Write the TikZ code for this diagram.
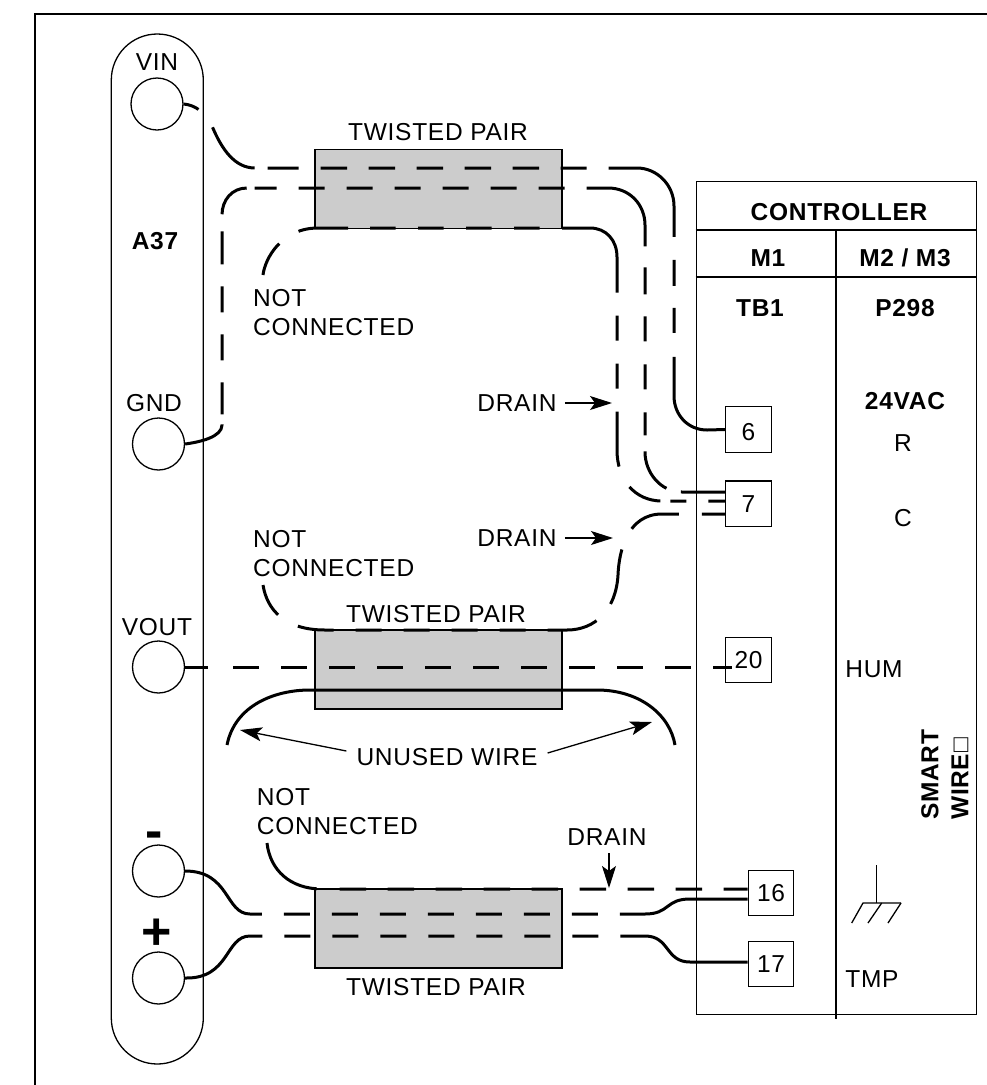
\documentclass[tikz,border=0pt]{standalone}
\usepackage{fontspec}
\setmainfont[LetterSpace=3]{Liberation Sans}
\usetikzlibrary{arrows.meta}
\definecolor{pairgrey}{RGB}{204,204,204}
\tikzset{
    thinline/.style={line width=1.3pt},
    wire/.style={line width=3pt},
    txt/.style={inner sep=0pt, text height=17.6pt, text depth=0pt, font=\fontsize{24.5}{29}\selectfont},
    boldtxt/.style={txt, font=\fontsize{24.5}{29}\selectfont\bfseries},
    note/.style={inner sep=0pt, anchor=north west, align=left, font=\fontsize{24.5}{29.5}\selectfont},
    hole/.style={circle, draw, thinline, minimum size=52pt, inner sep=0pt},
    pairbox/.style={draw, thinline, fill=pairgrey, minimum width=247pt, minimum height=79pt, inner sep=0pt},
    term/.style={draw, thinline, minimum size=45.5pt, inner sep=0pt, font=\fontsize{24.5}{29}\selectfont},
    pointer/.style={thinline, -{Stealth[length=22pt,width=14pt,inset=5pt]}}
}
\begin{document}
\begin{tikzpicture}[x=1pt,y=-1pt]
    \useasboundingbox (0,0) rectangle (987,1085);
    \draw[line width=1.6pt] (987,14) -- (35,14) -- (35,1085);

    \node[draw, thinline, rounded corners=46pt, minimum width=92pt, minimum height=1030pt, inner sep=0pt] (panel) at (157.3,549) {};
    \node[hole] (vin) at (157,104) {};
    \node[hole] (gnd) at (158.5,444) {};
    \node[hole] (vout) at (158.5,667) {};
    \node[hole] (minus) at (158.5,871) {};
    \node[hole] (plus) at (158.5,978) {};
    \node[txt] (vinlabel) at (157,62) {VIN};
    \node[boldtxt] (a37) at (155,241) {A37};
    \node[txt] (gndlabel) at (154,403) {GND};
    \node[txt] (voutlabel) at (157,627) {VOUT};
    \node[inner sep=0pt, anchor=base, font=\fontsize{52}{52}\selectfont\bfseries] (minuslabel) at (154,848) {-};
    \node[inner sep=0pt, anchor=base, font=\fontsize{52}{52}\selectfont\bfseries] (pluslabel) at (157,949) {+};

    \node[draw, thinline, minimum width=280pt, minimum height=833pt, inner sep=0pt] (controller) at (836.3,598.2) {};
    \draw[thinline] (controller.west |- 0,230) -- (controller.east |- 0,230);
    \draw[thinline] (controller.west |- 0,277) -- (controller.east |- 0,277);
    \draw[thinline] (836,230) -- (836,1019);
    \node[boldtxt] (ctrl) at (839,212) {CONTROLLER};
    \node[boldtxt] (m1) at (768,258) {M1};
    \node[boldtxt] (m2) at (905,258) {M2 / M3};
    \node[boldtxt] (tb1) at (760,308) {TB1};
    \node[boldtxt] (p298) at (905,308) {P298};
    \node[boldtxt] (vac) at (905,401) {24VAC};
    \node[txt] (rlabel) at (903,443) {R};
    \node[txt] (clabel) at (903,518) {C};
    \node[txt] (hum) at (874,669) {HUM};
    \node[txt] (tmp) at (872,979) {TMP};
    \node[rotate=90, anchor=north west, align=left, inner sep=0pt, font=\fontsize{24.5}{30}\selectfont\bfseries] (smart) at (921,820) {SMART\\WIRE□};

    \draw[thinline] (876.7,865) -- (876.7,903);
    \draw[thinline] (901,903) -- (863,903) -- (851.7,923);
    \draw[thinline] (881.7,903) -- (868,923);
    \draw[thinline] (901,903) -- (888,923);

    \node[pairbox] (pairtop) at (438.5,189) {};
    \node[pairbox] (pairmid) at (438.5,669.5) {};
    \node[pairbox] (pairlow) at (438.5,928.5) {};
    \node[txt] (pairtoplabel) at (438,132) {TWISTED PAIR};
    \node[txt] (pairmidlabel) at (436,614) {TWISTED PAIR};
    \node[txt] (pairlowlabel) at (436,987) {TWISTED PAIR};

    \node[term, text height=23pt] (term6) at (748.5,429.5) {6};
    \node[term] (term7) at (748.5,503.7) {7};
    \node[term] (term20) at (748.5,660) {20};
    \node[term] (term16) at (771,893) {16};
    \node[term] (term17) at (771,964) {17};

    \draw[wire, dash pattern=on 16pt off 23pt on 62pt off 13pt on 31pt off 22pt on 26.5pt off 21.5pt on 26.5pt off 21.5pt on 26.5pt off 21.5pt on 26.5pt off 21.5pt on 26.5pt off 21.5pt on 26pt off 22pt on 118pt off 23pt on 26pt off 22pt on 25pt off 24pt on 200pt off 0pt]
        (vin.east) .. controls (195,105) and (205,112) .. (212,126) .. controls (222,150) and (235,168) .. (255,168) -- (637,168) .. controls (657,168) and (674,185) .. (674,206) -- (674,396) .. controls (674,415) and (688,430) .. (707,430) -- (term6.west);
    \draw[wire, dash pattern=on 45pt off 10pt on 32pt off 22pt on 26pt off 22pt on 26pt off 22pt on 33pt off 17pt on 40pt off 8pt on 22pt off 22pt on 26pt off 22pt on 26pt off 22pt on 26pt off 22pt on 26pt off 22pt on 26pt off 22pt on 26pt off 22pt on 101pt off 21pt on 27pt off 22pt on 25pt off 23pt on 25pt off 23pt on 23pt off 16pt on 45pt off 15pt on 60pt off 0pt]
        (gnd.east) .. controls (200,442) and (222,437) .. (222,425) -- (222,215) .. controls (222,200) and (232,188) .. (247,188) -- (608,188) .. controls (630,188) and (645,205) .. (645,225) -- (645,452) .. controls (645,472) and (660,492) .. (682,492) -- ([yshift=11.7pt]term7.west);
    \draw[wire, dash pattern=on 36pt off 23pt on 50pt off 22pt on 25.5pt off 22.5pt on 25.5pt off 22.5pt on 25.5pt off 22.5pt on 25.5pt off 22.5pt on 108pt off 23pt on 25pt off 23pt on 25pt off 23pt on 55pt off 23pt on 35pt off 10pt on 16pt off 22pt on 20pt off 0pt]
        (263,275) .. controls (265,258) and (282,228) .. (318,228) -- (590,228) .. controls (606,228) and (617,240) .. (617,257) -- (617,450) .. controls (617,480) and (635,501) .. (662,501) -- ([yshift=2.7pt]term7.west);
    \draw[wire, dash pattern=on 23pt off 25pt on 26pt off 22pt on 26pt off 22pt on 26pt off 22pt on 26pt off 22pt on 26pt off 22pt on 26pt off 22pt on 26pt off 22pt on 26pt off 22pt on 26pt off 22pt on 26pt off 22pt on 30pt off 0pt]
        (vout.east) -- ([xshift=7pt]term20.west |- vout.east);
    \draw[wire, dash pattern=on 34pt off 23pt on 36pt off 22pt on 26pt off 22pt on 26pt off 22pt on 26pt off 22pt on 26pt off 22pt on 51pt off 22pt on 56pt off 23pt on 52pt off 23pt on 22pt off 0pt]
        (263,585) .. controls (267,610) and (285,630) .. (325,630) -- (567,630) .. controls (595,630) and (616,610) .. (618,575) .. controls (619,550) and (628,514) .. (662,514) -- ([yshift=-10.3pt]term7.west);
    \coordinate (unusedleft) at (227,745);
    \coordinate (unusedright) at (675,745);
    \draw[wire] (unusedleft) .. controls (235,705) and (275,690) .. (310,690) -- (597,690) .. controls (640,690) and (670,715) .. (unusedright);
    \draw[wire, dash pattern=on 94pt off 22pt on 26pt off 22pt on 26pt off 22pt on 26pt off 22pt on 26pt off 22pt on 26pt off 22pt on 26pt off 22pt on 26pt off 22pt on 200pt off 0pt]
        (minus.east) .. controls (230,871) and (225,914) .. (250,914) -- (645,914) .. controls (670,914) and (665,899) .. (690,899) -- ([yshift=-6pt]term16.west);
    \draw[wire, dash pattern=on 94pt off 22pt on 26pt off 22pt on 26pt off 22pt on 26pt off 22pt on 26pt off 22pt on 26pt off 22pt on 26pt off 22pt on 26pt off 22pt on 200pt off 0pt]
        (plus.east) .. controls (230,979) and (225,936) .. (250,936) -- (645,936) .. controls (670,936) and (665,962) .. (690,962) -- ([yshift=2pt]term17.west);
    \draw[wire, dash pattern=on 74pt off 23pt on 26.5pt off 21.5pt on 26.5pt off 21.5pt on 26.5pt off 21.5pt on 26.5pt off 21.5pt on 26.5pt off 21.5pt on 26.5pt off 21.5pt on 26.5pt off 21.5pt on 26.5pt off 21.5pt on 30pt off 0pt]
        (267,843) .. controls (270,870) and (290,889) .. (322,889) -- ([yshift=4pt]term16.west);

    \node[note] (nctop) at (253,289) {NOT\\CONNECTED};
    \node[note] (ncmid) at (253,530) {NOT\\CONNECTED};
    \node[note] (nclow) at (256.7,788) {NOT\\CONNECTED};
    \node[txt] (draintop) at (517,403) {DRAIN};
    \node[txt] (drainmid) at (517,538) {DRAIN};
    \node[txt] (drainlow) at (607,837) {DRAIN};
    \node[txt] (unused) at (447,757) {UNUSED WIRE};
    \coordinate (draintoptip) at (612,403);
    \coordinate (drainmidtip) at (613,538);
    \coordinate (drainlowtip) at (609,888);
    \coordinate (unusedlefttip) at (240,730);
    \coordinate (unusedrighttip) at (652,722);
    \draw[pointer] (draintop.east) ++(8,0) -- (draintoptip);
    \draw[pointer] (drainmid.east) ++(8,0) -- (drainmidtip);
    \draw[pointer] (drainlow.south) ++(2,7) -- (drainlowtip);
    \draw[pointer] (unused.west) ++(-10,-6) -- (unusedlefttip);
    \draw[pointer] (unused.east) ++(10,-4) -- (unusedrighttip);
\end{tikzpicture}
\end{document}
